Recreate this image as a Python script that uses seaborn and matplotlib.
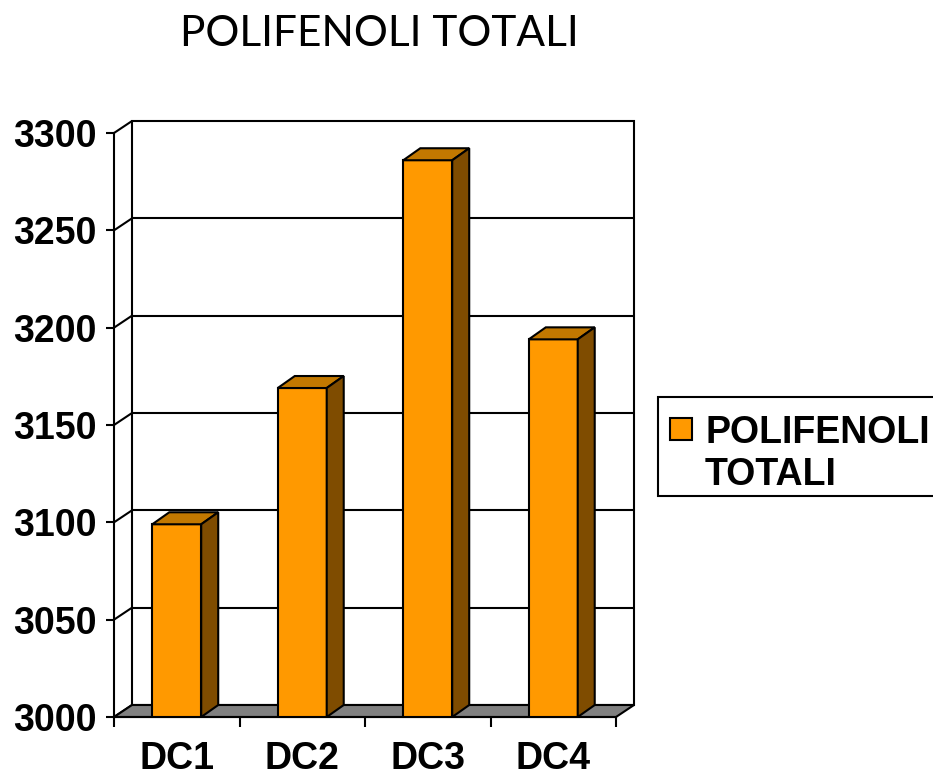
import numpy as np
import pandas as pd
import matplotlib.pyplot as plt
import seaborn as sns
from matplotlib.patches import Polygon, Rectangle

# data
categories = ['DC1', 'DC2', 'DC3', 'DC4']
values = [3099, 3169, 3286, 3194]
yticks = [3000, 3050, 3100, 3150, 3200, 3250, 3300]
title = 'POLIFENOLI TOTALI'
series_name = 'POLIFENOLI\nTOTALI'

df = pd.DataFrame({'campione': categories, 'valore': values})

sns.set_theme(style='white')
plt.rcParams['font.family'] = ['Liberation Sans', 'DejaVu Sans']

W, H, dpi = 933, 775, 100
fig = plt.figure(figsize=(W / dpi, H / dpi), dpi=dpi)
fig.patch.set_facecolor('white')
ax = fig.add_axes([114 / W, 1 - 717 / H, 502 / W, 584 / H])

front = '#FF9900'
top_col = '#C27800'
side_col = '#7F4C00'
floor_col = '#808080'
lw = 1.5

sns.barplot(data=df, x='campione', y='valore', color=front, width=0.39,
            saturation=1, edgecolor='black', linewidth=lw, ax=ax, zorder=3)
bars = list(ax.patches)

ax.set_xlim(-0.5, 3.5)
ax.set_ylim(yticks[0], yticks[-1])
ax.set_xlabel('')
ax.set_ylabel('')

# depth offsets (pixels -> data units)
xspan = 4.0
yspan = yticks[-1] - yticks[0]
ax_w = 502
ax_h = 584
dxw, dyw = 18 * xspan / ax_w, 12 * yspan / ax_h
dxb, dyb = 17 * xspan / ax_w, 12 * yspan / ax_h
y0 = yticks[0]
x_lo, x_hi = -0.5, 3.5

# back wall
ax.add_patch(Rectangle((x_lo + dxw, y0 + dyw), xspan, yspan, facecolor='white',
                       edgecolor='black', lw=lw, clip_on=False, zorder=0.5))
for y in yticks[1:-1]:
    ax.plot([x_lo + dxw, x_hi + dxw], [y + dyw, y + dyw], color='black',
            lw=lw, clip_on=False, zorder=1)
# left side wall diagonals
for y in yticks:
    ax.plot([x_lo, x_lo + dxw], [y, y + dyw], color='black', lw=lw,
            clip_on=False, zorder=1)
# floor
ax.add_patch(Polygon([(x_lo, y0), (x_hi, y0), (x_hi + dxw, y0 + dyw), (x_lo + dxw, y0 + dyw)],
                     closed=True, facecolor=floor_col, edgecolor='black', lw=lw,
                     clip_on=False, zorder=2))

# 3d faces of each bar
for p in bars:
    x0 = p.get_x()
    w = p.get_width()
    t = p.get_y() + p.get_height()
    ax.add_patch(Polygon([(x0, t), (x0 + w, t), (x0 + w + dxb, t + dyb), (x0 + dxb, t + dyb)],
                         closed=True, facecolor=top_col, edgecolor='black', lw=lw,
                         clip_on=False, zorder=3.5))
    ax.add_patch(Polygon([(x0 + w, y0), (x0 + w, t), (x0 + w + dxb, t + dyb), (x0 + w + dxb, y0 + dyb)],
                         closed=True, facecolor=side_col, edgecolor='black', lw=lw,
                         clip_on=False, zorder=3.5))

for s in ['top', 'right']:
    ax.spines[s].set_visible(False)
for s in ['left', 'bottom']:
    ax.spines[s].set_color('black')
    ax.spines[s].set_linewidth(lw)
    ax.spines[s].set_zorder(5)

ax.set_yticks(yticks)
ax.set_yticklabels([str(v) for v in yticks], fontweight='bold')
ax.tick_params(axis='y', left=True, direction='out', length=5.8, width=lw,
               pad=6.5, labelsize=27, color='black', labelcolor='black')

ax.set_xticks(range(len(categories)))
ax.set_xticklabels(categories, fontweight='bold')
ax.set_xticks(np.arange(-0.5, len(categories), 1), minor=True)
ax.tick_params(axis='x', which='major', bottom=False, length=0, pad=17,
               labelsize=27, labelcolor='black')
ax.tick_params(axis='x', which='minor', bottom=True, direction='out', length=7.2,
               width=lw, color='black')
ax.grid(False)

# title
fig.text(379 / W, 1 - 46 / H, title, ha='center', va='baseline', fontsize=30.5,
         family=['Lato', 'DejaVu Sans'], color='black')

# legend
fig.add_artist(Rectangle((658 / W, 1 - 496 / H), 300 / W, 99 / H, transform=fig.transFigure,
                         facecolor='white', edgecolor='black', lw=lw))
fig.add_artist(Rectangle((670 / W, 1 - 440 / H), 22 / W, 22 / H, transform=fig.transFigure,
                         facecolor=front, edgecolor='black', lw=lw))
fig.text(705 / W, 1 - 485 / H, series_name, ha='left', va='baseline', fontsize=27,
         fontweight='bold', color='black', linespacing=1.2)

fig.savefig('out.png', dpi=dpi, facecolor='white')
